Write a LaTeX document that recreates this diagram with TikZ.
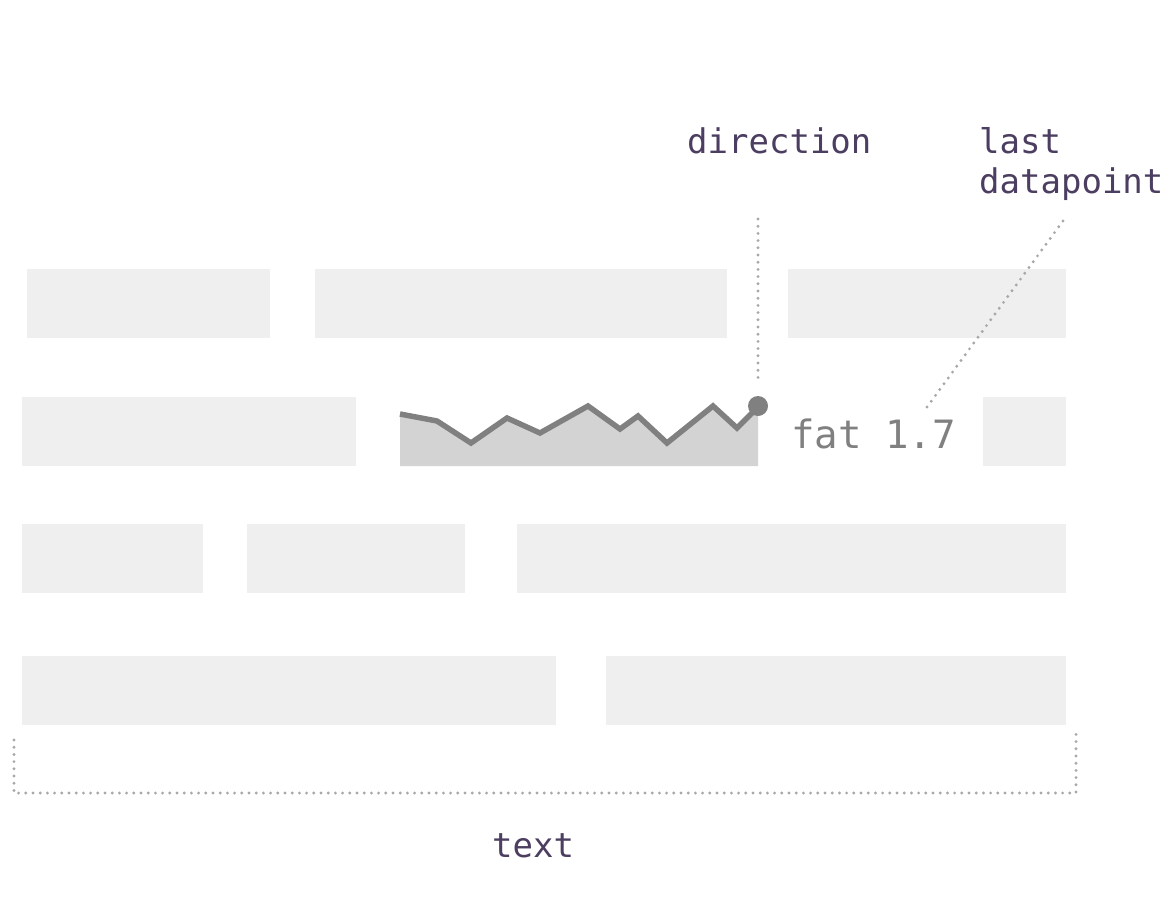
\documentclass[tikz,border=0pt]{standalone}
\usepackage{fontspec}
\newfontfamily\monofont{DejaVu Sans Mono}
\definecolor{barfill}{HTML}{EFEFEF}
\definecolor{sparkfill}{HTML}{D3D3D3}
\definecolor{sparkline}{HTML}{808080}
\definecolor{dotgray}{HTML}{A8A8A8}
\definecolor{labelcol}{RGB}{76,62,96}
\begin{document}
\begin{tikzpicture}[x=1pt,y=-1pt,
  bar/.style={fill=barfill,draw=none},
  lbl/.style={font=\monofont\fontsize{34}{40}\selectfont,text=labelcol,inner sep=0pt,anchor=base west},
  guide/.style={draw=dotgray,line width=3.2pt,dash pattern=on 0pt off 7.2pt,line cap=round}]
\useasboundingbox (0,0) rectangle (1176,902);
% row 1
\fill[bar] (27,269) rectangle (270,338);
\fill[bar] (315,269) rectangle (727,338);
\fill[bar] (788,269) rectangle (1066,338);
% row 2
\fill[bar] (22,397) rectangle (356,466);
\fill[bar] (983,397) rectangle (1066,466);
% row 3
\fill[bar] (22,524) rectangle (203,593);
\fill[bar] (247,524) rectangle (465,593);
\fill[bar] (517,524) rectangle (1066,593);
% row 4
\fill[bar] (22,656) rectangle (556,725);
\fill[bar] (606,656) rectangle (1066,725);
% sparkline
\fill[sparkfill] (400,466) -- (400,414) -- (437,421) -- (471,443) -- (507,418) -- (540,433) -- (588,406) -- (620,429) -- (638,416) -- (667,443) -- (713,406) -- (737,428) -- (758,407) -- (758,466) -- cycle;
\draw[sparkline,line width=5.5pt,line join=miter] (400,414) -- (437,421) -- (471,443) -- (507,418) -- (540,433) -- (588,406) -- (620,429) -- (638,416) -- (667,443) -- (713,406) -- (737,428) -- (758,407);
\node[circle,fill=sparkline,minimum size=20pt,inner sep=0pt] (last) at (758,406) {};
% value text
\node[font=\monofont\fontsize{39}{44}\selectfont,text=sparkline,inner sep=0pt,anchor=base west] (val) at (791,448) {fat 1.7};
% labels
\node[lbl] (dir) at (687,153) {direction};
\node[lbl] (ldp1) at (979,153) {last};
\node[lbl] (ldp2) at (979,193) {datapoint};
\coordinate (dirtop) at (758,219);
\coordinate (dirbot) at (758,380);
\coordinate (ldptop) at (1063,221);
\coordinate (ldpbot) at (927,407);
\draw[guide] (dirtop) -- (dirbot);
\draw[guide] (ldptop) -- (ldpbot);
% bracket
\coordinate (bl) at (14,740);
\coordinate (bb1) at (14,793);
\coordinate (bb2) at (1076,793);
\coordinate (br) at (1076,734);
\draw[guide] (bl) -- (bb1) -- (bb2) -- (br);
\node[lbl] (txt) at (492,857) {text};
\end{tikzpicture}
\end{document}
